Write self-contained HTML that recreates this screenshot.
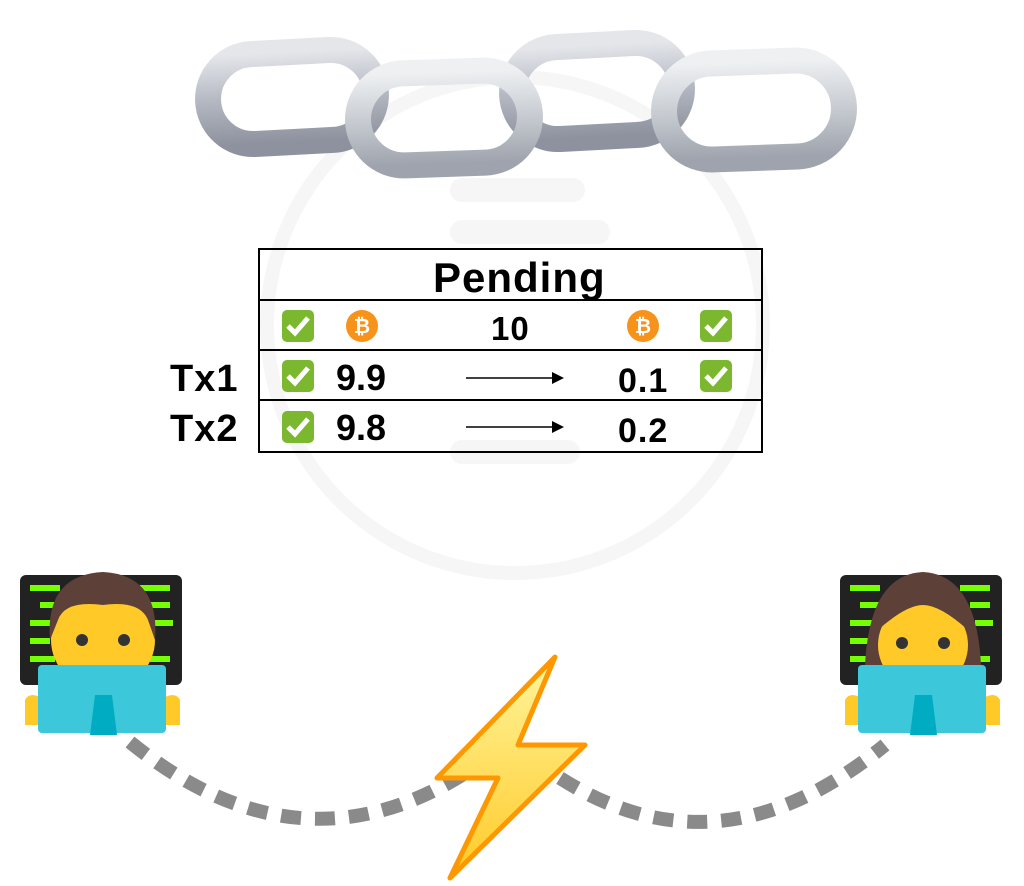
<!DOCTYPE html>
<html><head><style>
body{margin:0;background:#fff;width:1024px;height:886px;overflow:hidden;position:relative;font-family:"Liberation Sans",sans-serif;}
.t{position:absolute;font-weight:bold;color:#000;line-height:1;}
</style></head><body>
<svg width="1024" height="886" style="position:absolute;left:0;top:0">
<defs>
<linearGradient id="lg" x1="0" y1="0" x2="0" y2="1"><stop offset="0" stop-color="#e4e6ea"/><stop offset="0.5" stop-color="#b4b8c2"/><stop offset="1" stop-color="#8e929e"/></linearGradient>
<linearGradient id="lg2" x1="0" y1="0" x2="0" y2="1"><stop offset="0" stop-color="#eef0f2"/><stop offset="0.5" stop-color="#c8ccd2"/><stop offset="1" stop-color="#9ea3ad"/></linearGradient>
<linearGradient id="bolt" x1="0" y1="0" x2="0" y2="1"><stop offset="0" stop-color="#fff59d"/><stop offset="1" stop-color="#ffca28"/></linearGradient>
</defs>
<circle cx="515" cy="325" r="248" fill="none" stroke="#f6f6f6" stroke-width="14"/>
<g fill="#f6f6f6"><rect x="450" y="178" width="135" height="24" rx="12"/><rect x="450" y="220" width="160" height="24" rx="12"/><rect x="450" y="440" width="130" height="24" rx="12"/></g>
<g fill="none" stroke-width="26">
<rect x="208" y="52" width="168" height="90" rx="45" stroke="url(#lg)" transform="rotate(-3 292 97)"/>
<rect x="512" y="45" width="170" height="92" rx="46" stroke="url(#lg)" transform="rotate(-3 597 91)"/>
<rect x="358" y="72" width="172" height="92" rx="46" stroke="url(#lg2)" transform="rotate(-2 444 118)"/>
<rect x="664" y="62" width="180" height="96" rx="48" stroke="url(#lg2)" transform="rotate(-2 754 110)"/>
</g>
<g stroke="#000" stroke-width="2" fill="none">
<rect x="259" y="249" width="503" height="203"/>
<line x1="259" y1="300" x2="762" y2="300"/><line x1="259" y1="350" x2="762" y2="350"/><line x1="259" y1="400" x2="762" y2="400"/>
<line x1="466" y1="378" x2="555" y2="378" stroke-width="1.5"/><line x1="466" y1="427" x2="555" y2="427" stroke-width="1.5"/>
</g>
<path d="M552 372 L564 378 L552 384Z M552 421 L564 427 L552 433Z" fill="#000"/>
<g>
<rect x="282" y="310" width="32" height="32" rx="5" fill="#7cb82f"/><path d="M288 326 l7 7 l13 -15" stroke="#fff" stroke-width="5" fill="none"/>
<rect x="700" y="310" width="32" height="32" rx="5" fill="#7cb82f"/><path d="M706 326 l7 7 l13 -15" stroke="#fff" stroke-width="5" fill="none"/>
<rect x="282" y="360" width="32" height="32" rx="5" fill="#7cb82f"/><path d="M288 376 l7 7 l13 -15" stroke="#fff" stroke-width="5" fill="none"/>
<rect x="700" y="360" width="32" height="32" rx="5" fill="#7cb82f"/><path d="M706 376 l7 7 l13 -15" stroke="#fff" stroke-width="5" fill="none"/>
<rect x="282" y="411" width="32" height="32" rx="5" fill="#7cb82f"/><path d="M288 427 l7 7 l13 -15" stroke="#fff" stroke-width="5" fill="none"/>
<circle cx="362" cy="326" r="16" fill="#f7931a"/><text x="362" y="333" font-size="20" font-weight="bold" fill="#fff" text-anchor="middle" font-family="Liberation Sans">₿</text>
<circle cx="643" cy="326" r="16" fill="#f7931a"/><text x="643" y="333" font-size="20" font-weight="bold" fill="#fff" text-anchor="middle" font-family="Liberation Sans">₿</text>
</g>
<path d="M130 742 Q300 880 470 770" fill="none" stroke="#8a8a8a" stroke-width="14" stroke-dasharray="20 14"/>
<path d="M560 778 Q720 880 885 745" fill="none" stroke="#8a8a8a" stroke-width="14" stroke-dasharray="20 14"/>
<path d="M555 657 L437 778 L498 778 L450 878 L585 745 L518 745 Z" fill="url(#bolt)" stroke="#ff9800" stroke-width="5" stroke-linejoin="round"/>
<g id="p1">
<rect x="20" y="575" width="162" height="110" rx="6" fill="#222"/>
<g fill="#76ff03"><rect x="30" y="585" width="30" height="6"/><rect x="140" y="585" width="30" height="6"/><rect x="40" y="602" width="25" height="6"/><rect x="150" y="602" width="20" height="6"/><rect x="30" y="620" width="25" height="6"/><rect x="155" y="620" width="18" height="6"/><rect x="30" y="638" width="20" height="6"/><rect x="30" y="656" width="25" height="6"/><rect x="150" y="656" width="20" height="6"/></g>
<ellipse cx="103" cy="640" rx="52" ry="50" fill="#ffca28"/>
<path d="M50 640 Q45 575 103 572 Q160 575 155 640 L148 620 Q140 600 103 605 Q65 600 58 620Z" fill="#5d4037"/>
<circle cx="82" cy="640" r="6" fill="#333"/><circle cx="124" cy="640" r="6" fill="#333"/>
<path d="M25 700 Q30 690 45 700 L45 725 L25 725Z M180 700 Q175 690 160 700 L160 725 L180 725Z" fill="#ffca28"/>
<rect x="38" y="665" width="128" height="68" rx="4" fill="#3cc8da"/>
<path d="M90 735 L95 695 L112 695 L117 735Z" fill="#00acc1"/>
</g>
<g transform="translate(820,0)">
<rect x="20" y="575" width="162" height="110" rx="6" fill="#222"/>
<g fill="#76ff03"><rect x="30" y="585" width="30" height="6"/><rect x="140" y="585" width="30" height="6"/><rect x="40" y="602" width="25" height="6"/><rect x="150" y="602" width="20" height="6"/><rect x="30" y="620" width="25" height="6"/><rect x="155" y="620" width="18" height="6"/><rect x="30" y="638" width="20" height="6"/><rect x="30" y="656" width="25" height="6"/><rect x="150" y="656" width="20" height="6"/></g>
<path d="M45 700 Q40 575 103 572 Q166 575 161 700Z" fill="#5d4037"/>
<ellipse cx="103" cy="645" rx="45" ry="45" fill="#ffca28"/>
<path d="M58 630 Q70 590 103 590 Q136 590 148 630 Q120 605 103 605 Q86 605 58 630Z" fill="#5d4037"/>
<circle cx="82" cy="643" r="6" fill="#333"/><circle cx="124" cy="643" r="6" fill="#333"/>
<path d="M25 700 Q30 690 45 700 L45 725 L25 725Z M180 700 Q175 690 160 700 L160 725 L180 725Z" fill="#ffca28"/>
<rect x="38" y="665" width="128" height="68" rx="4" fill="#3cc8da"/>
<path d="M90 735 L95 695 L112 695 L117 735Z" fill="#00acc1"/>
</g>
</svg>
<div class="t" style="left:433px;top:257px;font-size:42px;letter-spacing:1px;">Pending</div>
<div class="t" style="left:491px;top:312px;font-size:33px;letter-spacing:1px;">10</div>
<div class="t" style="left:170px;top:360px;font-size:38px;letter-spacing:1px;">Tx1</div>
<div class="t" style="left:170px;top:410px;font-size:38px;letter-spacing:1px;">Tx2</div>
<div class="t" style="left:336px;top:360px;font-size:36px;">9.9</div>
<div class="t" style="left:336px;top:410px;font-size:36px;">9.8</div>
<div class="t" style="left:618px;top:364px;font-size:34px;letter-spacing:1px;">0.1</div>
<div class="t" style="left:618px;top:414px;font-size:34px;letter-spacing:1px;">0.2</div>
</body></html>
